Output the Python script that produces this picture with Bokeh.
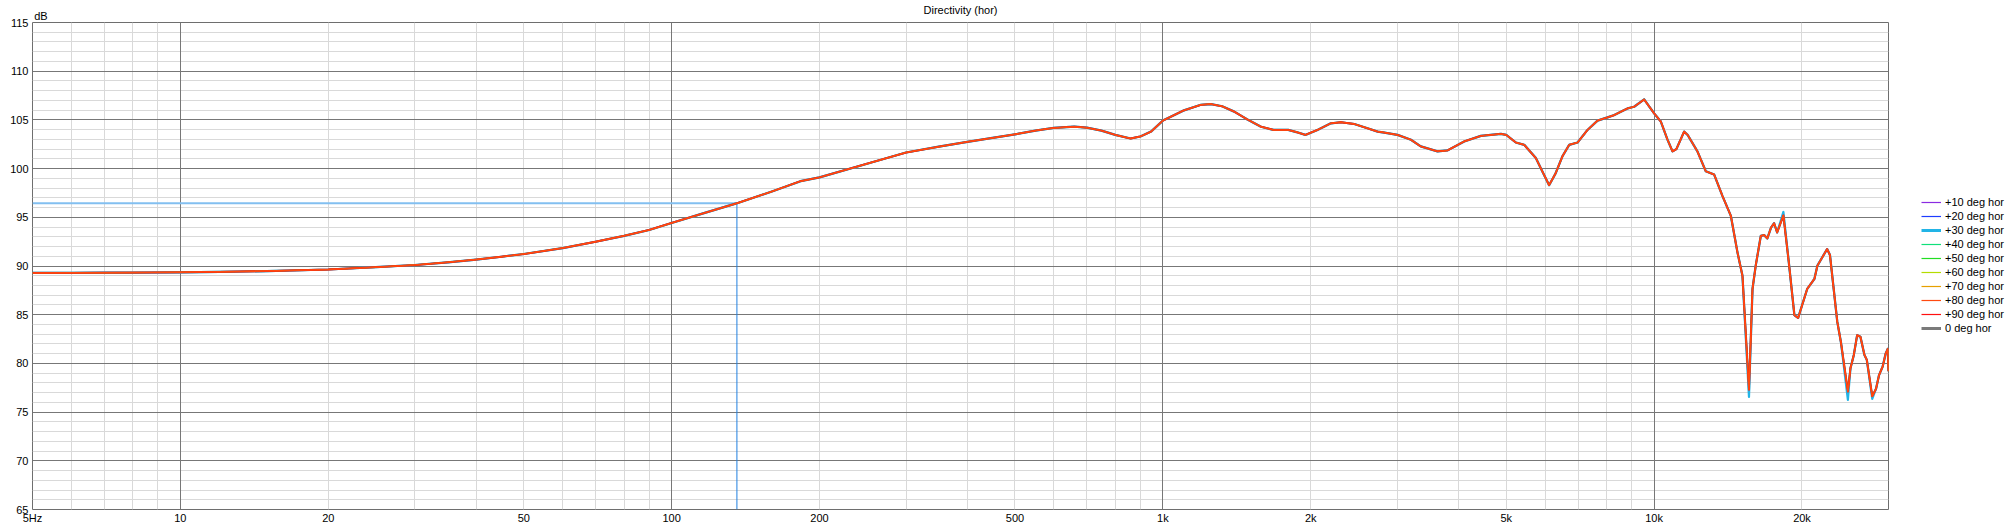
from bokeh.plotting import figure
from bokeh.models import FixedTicker, Legend, LegendItem, Range1d, LogAxis, Grid
from bokeh.layouts import row
from bokeh.embed import file_html
from bokeh.resources import INLINE

# ---------------- data ----------------
freq_hz = [5, 6, 7, 8, 10, 12, 15, 20, 25, 30, 35, 40, 45, 50, 60, 70, 80, 90, 100,
           115, 136, 160, 183, 200, 250, 300, 350, 400, 450, 500, 550, 600, 660, 700,
           750, 800, 860, 900, 946, 1000, 1100, 1195, 1253, 1320, 1397, 1480, 1584,
           1680, 1800, 1870, 1950, 2064, 2198, 2303, 2452, 2610, 2737, 2823, 3004,
           3199, 3350, 3623, 3798, 4105, 4440, 4875, 5000, 5230, 5440, 5745, 5950,
           6113, 6300, 6512, 6716, 6985, 7319, 7670, 8040, 8300, 8555, 8831, 9105,
           9544, 10000, 10320, 10650, 10900, 11100, 11510, 11700, 12250, 12740, 13250,
           13780, 14330, 14780, 15130, 15600, 15860, 16100, 16490, 16750, 17000, 17300,
           17550, 17800, 18330, 18800, 19300, 19640, 20500, 21200, 21500, 22500, 22800,
           23600, 24000, 24800, 25100, 25500, 25900, 26300, 26800, 27100, 27800, 28300,
           28700, 29200, 29600, 29900, 30000]

spl_db = [89.29, 89.30, 89.31, 89.32, 89.35, 89.40, 89.48, 89.64, 89.88, 90.10, 90.38,
          90.66, 90.95, 91.23, 91.84, 92.49, 93.10, 93.70, 94.42, 95.35, 96.45, 97.65,
          98.71, 99.10, 100.50, 101.65, 102.25, 102.75, 103.15, 103.52, 103.90, 104.18,
          104.30, 104.20, 103.90, 103.46, 103.09, 103.30, 103.80, 104.93, 105.95, 106.55,
          106.62, 106.40, 105.85, 105.10, 104.30, 103.97, 103.97, 103.75, 103.46, 103.97,
          104.65, 104.76, 104.58, 104.14, 103.80, 103.70, 103.46, 102.96, 102.28, 101.77,
          101.87, 102.79, 103.36, 103.56, 103.46, 102.68, 102.44, 101.08, 99.50, 98.30,
          99.50, 101.30, 102.44, 102.68, 103.97, 104.93, 105.26, 105.50, 105.84, 106.18,
          106.35, 107.10, 105.67, 104.83, 102.96, 101.77, 102.00, 103.80, 103.46, 101.77,
          99.73, 99.39, 97.18, 95.14, 91.40, 89.00, 77.30, 87.66, 90.04, 93.10, 93.17,
          92.83, 93.95, 94.39, 93.44, 95.20, 90.40, 84.95, 84.67, 87.66, 88.68, 90.04,
          91.74, 91.13, 84.26, 82.20, 77.10, 79.50, 80.87, 82.90, 82.74, 80.87, 80.36,
          76.62, 77.40, 78.80, 79.70, 81.00, 81.50, 79.20]

# the +30 deg trace reaches slightly deeper in the sharp notches
spl_db_30 = list(spl_db)
spl_db_30[freq_hz.index(15600)] = 76.55
spl_db_30[freq_hz.index(18330)] = 95.55
spl_db_30[freq_hz.index(24800)] = 76.25
spl_db_30[freq_hz.index(27800)] = 76.35

series_names = ["+10 deg hor", "+20 deg hor", "+30 deg hor", "+40 deg hor",
                "+50 deg hor", "+60 deg hor", "+70 deg hor", "+80 deg hor",
                "+90 deg hor", "0 deg hor"]
series_colors = ["#8a2be2", "#1e3cff", "#22b4e6", "#10e07a", "#22dd22",
                 "#b4dc00", "#e6a000", "#ff4a10", "#ff1010", "#7a7a7a"]
series_widths = [1.0, 1.0, 2.2, 1.0, 1.0, 1.0, 1.0, 1.5, 1.8, 2.2]
legend_widths = [1.2, 1.2, 3.0, 1.2, 1.2, 1.2, 1.2, 1.2, 1.2, 3.0]
draw_order = [9, 2, 0, 1, 3, 4, 5, 6, 8, 7]

cursor_freq = 135.8
cursor_db = 96.45

title_text = "Directivity (hor)"
unit_text = "dB"
unit_pos_hz = 5.2

x_start, x_end = 5, 30000
y_start, y_end = 65, 115
x_ticks = [5, 10, 20, 50, 100, 200, 500, 1000, 2000, 5000, 10000, 20000]
x_tick_labels = ["5Hz", "10", "20", "50", "100", "200", "500", "1k", "2k", "5k", "10k", "20k"]
x_decades = [10, 100, 1000, 10000]
x_minor = [m * d for d in [1, 10, 100, 1000, 10000] for m in range(2, 10)
           if 5 < m * d < 30000 and m * d not in (10, 100, 1000, 10000)]
y_ticks = list(range(65, 116, 5))
y_minor = [v for v in range(65, 116) if v % 5]

FONT = "Liberation Sans"
MAJOR_GRID = "#777777"
MINOR_GRID = "#d9d9d9"

p = figure(width=1890, height=527, x_axis_type="log",
           x_range=Range1d(x_start, x_end), y_range=Range1d(y_start, y_end),
           output_backend="svg", toolbar_location=None,
           min_border_left=32, min_border_right=2,
           min_border_top=18, min_border_bottom=18)

p.background_fill_color = "white"
p.border_fill_color = "white"
p.outline_line_color = "#6e6e6e"
p.outline_line_width = 1

bottom_axis = p.below[0]
bottom_axis.ticker = FixedTicker(ticks=x_ticks, minor_ticks=[])
bottom_axis.major_label_overrides = {t: l for t, l in zip(x_ticks, x_tick_labels)}
p.yaxis.ticker = FixedTicker(ticks=y_ticks, minor_ticks=[])

# top axis carrying the unit label (as tick label) and the chart title (as axis label)
top_axis = LogAxis(ticker=FixedTicker(ticks=[unit_pos_hz], minor_ticks=[]),
                   major_label_overrides={unit_pos_hz: unit_text},
                   axis_label=title_text)
p.add_layout(top_axis, "above")

for ax in (bottom_axis, p.yaxis[0], top_axis):
    ax.axis_line_color = None
    ax.major_tick_line_color = None
    ax.minor_tick_line_color = None
    ax.major_tick_in = 0
    ax.major_tick_out = 0
    ax.minor_tick_in = 0
    ax.minor_tick_out = 0
    ax.major_label_text_font = FONT
    ax.major_label_text_font_size = "11px"
    ax.major_label_text_color = "#000000"
bottom_axis.major_label_standoff = 2
p.yaxis.major_label_standoff = 4
top_axis.major_label_standoff = 1
top_axis.axis_label_text_font = FONT
top_axis.axis_label_text_font_size = "11px"
top_axis.axis_label_text_font_style = "normal"
top_axis.axis_label_text_color = "#000000"
top_axis.axis_label_standoff = -9

# grids: light minor lines first, dark major lines on top of them
p.xgrid.ticker = FixedTicker(ticks=[], minor_ticks=x_minor)
p.ygrid.ticker = FixedTicker(ticks=[], minor_ticks=y_minor)
for g in (p.xgrid, p.ygrid):
    g.grid_line_color = None
    g.minor_grid_line_color = MINOR_GRID
    g.minor_grid_line_width = 1
    g.level = "underlay"
p.add_layout(Grid(dimension=0, ticker=FixedTicker(ticks=x_decades, minor_ticks=[]),
                  grid_line_color=MAJOR_GRID, grid_line_width=1, level="underlay"))
p.add_layout(Grid(dimension=1, ticker=FixedTicker(ticks=y_ticks, minor_ticks=[]),
                  grid_line_color=MAJOR_GRID, grid_line_width=1, level="underlay"))

# cursor lines
p.line([x_start, cursor_freq], [cursor_db, cursor_db], line_color="#82bff0", line_width=2)
p.line([cursor_freq, cursor_freq], [cursor_db, y_start], line_color="#1f7fe0", line_width=1)

# curves
for i in draw_order:
    ys = spl_db_30 if i == 2 else spl_db
    p.line(freq_hz, ys, line_color=series_colors[i],
           line_width=series_widths[i], line_join="round")

# legend panel (separate canvas to the right of the plot frame)
lp = figure(width=122, height=527, output_backend="svg", toolbar_location=None,
            x_axis_location=None, y_axis_location=None,
            min_border_left=0, min_border_right=0, min_border_top=0, min_border_bottom=0,
            x_range=Range1d(0, 1), y_range=Range1d(0, 1))
lp.outline_line_color = None
lp.xgrid.visible = False
lp.ygrid.visible = False
legend_items = []
for i, name in enumerate(series_names):
    # swatch-only renderers: their points lie outside the visible range
    r = lp.line([2, 3], [2, 2], line_color=series_colors[i], line_width=legend_widths[i])
    legend_items.append(LegendItem(label=name, renderers=[r]))

legend = Legend(items=legend_items, location=(31, 174))
legend.label_text_font = FONT
legend.label_text_font_size = "11px"
legend.label_text_color = "#000000"
legend.glyph_width = 20
legend.glyph_height = 14
legend.label_height = 14
legend.label_standoff = 4
legend.spacing = 0
legend.padding = 0
legend.margin = 0
legend.border_line_alpha = 0
legend.background_fill_alpha = 0
lp.add_layout(legend)

open("out.html", "w").write(file_html(row(p, lp, spacing=0), INLINE))
